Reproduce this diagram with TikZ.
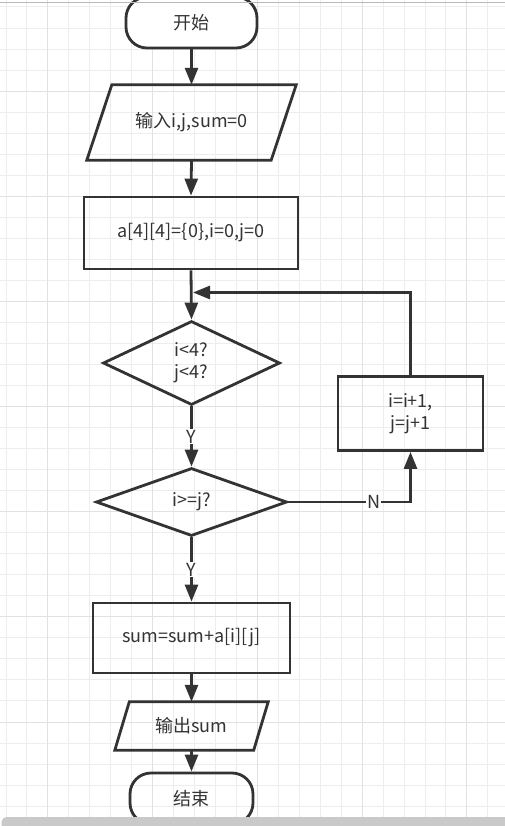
\documentclass[tikz,border=0pt]{standalone}
\usepackage{fontspec}
\setmainfont{Noto Sans CJK SC}
\usetikzlibrary{arrows.meta,shapes.geometric}
\definecolor{ink}{HTML}{333333}
\definecolor{gridminor}{HTML}{EDEDED}
\definecolor{gridmajor}{HTML}{E1E1E1}
\begin{document}
\begin{tikzpicture}[x=1pt,y=-1pt,
  every node/.style={font=\fontsize{18}{22}\selectfont, text=ink},
  box/.style={draw=ink, line width=2.8pt, rectangle, inner sep=0pt, align=center},
  term/.style={draw=ink, line width=2.8pt, rectangle, rounded corners=21pt, inner sep=0pt},
  iobox/.style={rectangle, inner sep=0pt, align=center},
  iodraw/.style={draw=ink, line width=2.8pt, line join=miter},
  dec/.style={draw=ink, line width=2.8pt, diamond, inner sep=0pt, align=center},
  arr/.style={draw=ink, line width=2.8pt, -{Triangle[length=17pt,width=13pt]}},
  lbl/.style={fill=white, inner sep=1pt}
]
\useasboundingbox (0,0) rectangle (505,826);
\clip (0,0) rectangle (505,826);
\fill[white] (0,0) rectangle (505,826);
% grid
\foreach \k in {0,...,23} {
  \draw[gridminor, line width=1pt] ({6+20.95*\k},0) -- ({6+20.95*\k},826);
}
\foreach \k in {0,...,39} {
  \draw[gridminor, line width=1pt] (0,{7+21.03*\k}) -- (505,{7+21.03*\k});
}
\foreach \k in {2,7,12,17,22} {
  \draw[gridmajor, line width=1pt] ({6+20.95*\k},0) -- ({6+20.95*\k},826);
}
\foreach \k in {4,9,14,19,24,29,34,39} {
  \draw[gridmajor, line width=1pt] (0,{7+21.03*\k}) -- (505,{7+21.03*\k});
}

% nodes
\node[term, minimum width=131pt, minimum height=51pt, fill=white] (start) at (191.5,22.5) {开始};
\node[iobox, minimum width=209pt, minimum height=75pt] (inp) at (191.5,122.5) {输入i,j,sum=0};
\draw[iodraw] ([xshift=25pt]inp.north west) -- (inp.north east) -- ([xshift=-25pt]inp.south east) -- (inp.south west) -- cycle;
\node[box, minimum width=214pt, minimum height=72pt] (init) at (191,233) {a[4][4]=\{0\},i=0,j=0};
\node[dec, minimum width=177pt, minimum height=84pt] (c1) at (191.5,363) {i<4?\\j<4?};
\node[dec, minimum width=191pt, minimum height=68pt] (c2) at (191.5,502) {i>=j?};
\node[box, minimum width=145pt, minimum height=74pt] (inc) at (410.5,413.5) {i=i+1,\\j=j+1};
\node[box, minimum width=197pt, minimum height=70pt] (acc) at (191.5,638) {sum=sum+a[i][j]};
\node[iobox, minimum width=153pt, minimum height=48pt] (out) at (191.5,726) {输出sum};
\draw[iodraw] ([xshift=14.5pt]out.north west) -- (out.north east) -- ([xshift=-14.5pt]out.south east) -- (out.south west) -- cycle;
\node[term, minimum width=123pt, minimum height=51pt] (end) at (191.5,798.5) {结束};
\coordinate (merge) at (193,292.5);

% connectors
\draw[arr] (start.south) -- (inp.north);
\draw[arr] (inp.south) -- (init.north);
\draw[arr] (init.south) -- (c1.north);
\draw[arr] (c1.south) -- node[lbl]{Y} (c2.north);
\draw[arr] (c2.south) -- node[lbl]{Y} (acc.north);
\draw[arr] (c2.east) -| node[lbl, pos=0.35]{N} (inc.south);
\draw[arr] (inc.north) |- (merge);
\draw[arr] (acc.south) -- (out.north);
\draw[arr] (out.south) -- (end.north);

% window chrome
\draw[gray!55, line width=1.3pt] (0,2.3) -- (505,2.3);
\fill[gray!42, rounded corners=5pt] (1.5,817) rectangle (520,845);
\end{tikzpicture}
\end{document}
